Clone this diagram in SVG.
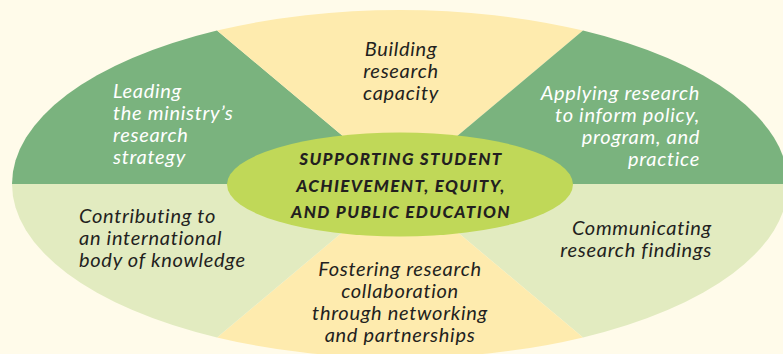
<svg xmlns="http://www.w3.org/2000/svg" width="783" height="354" viewBox="0 0 783 354">
  <style>
    .dark { fill: #7AB37E; }
    .yel { fill: #FEEBAE; }
    .light { fill: #E2EBC0; }
    .lbl { font-family: Lato, "Liberation Sans", sans-serif; font-style: italic; font-size: 20px; letter-spacing: 0.7px; }
    .w { fill: #FFFFFF; }
    .k { fill: #231F20; }
    .ctr { font-family: Lato, "Liberation Sans", sans-serif; font-style: italic; font-weight: 900; font-size: 17px; letter-spacing: 1.4px; fill: #231F20; text-anchor: middle; }
  </style>
  <rect width="783" height="354" fill="#FFFBEA"/>
  <g id="leading">
    <path class="dark" d="M400,184 L12,184 A388,174 0 0 1 217,30.6 Z"/>
    <text class="lbl w" x="113"><tspan x="113" y="98">Leading</tspan><tspan x="113" y="120">the ministry’s</tspan><tspan x="113" y="142">research</tspan><tspan x="113" y="164">strategy</tspan></text>
  </g>
  <g id="building">
    <path class="yel" d="M400,184 L217,30.6 A388,174 0 0 1 583,30.6 Z"/>
    <text class="lbl k" text-anchor="middle"><tspan x="401" y="56">Building</tspan><tspan x="401" y="78">research</tspan><tspan x="401" y="100">capacity</tspan></text>
  </g>
  <g id="applying">
    <path class="dark" d="M400,184 L583,30.6 A388,174 0 0 1 788,184 Z"/>
    <text class="lbl w" text-anchor="end"><tspan x="700" y="100">Applying research</tspan><tspan x="700" y="122">to inform policy,</tspan><tspan x="700" y="144">program, and</tspan><tspan x="700" y="166">practice</tspan></text>
  </g>
  <g id="communicating">
    <path class="light" d="M400,184 L788,184 A388,174 0 0 1 583,337.4 Z"/>
    <text class="lbl k" text-anchor="end"><tspan x="712" y="235">Communicating</tspan><tspan x="712" y="257">research findings</tspan></text>
  </g>
  <g id="fostering">
    <path class="yel" d="M400,184 L583,337.4 A388,174 0 0 1 217,337.4 Z"/>
    <text class="lbl k" text-anchor="middle"><tspan x="400" y="276">Fostering research</tspan><tspan x="400" y="298">collaboration</tspan><tspan x="400" y="320">through networking</tspan><tspan x="400" y="342">and partnerships</tspan></text>
  </g>
  <g id="contributing">
    <path class="light" d="M400,184 L217,337.4 A388,174 0 0 1 12,184 Z"/>
    <text class="lbl k"><tspan x="79" y="223">Contributing to</tspan><tspan x="79" y="245">an international</tspan><tspan x="79" y="267">body of knowledge</tspan></text>
  </g>
  <g id="center">
    <ellipse cx="400" cy="184.5" rx="173" ry="52" fill="#C0D858"/>
    <text class="ctr"><tspan x="401" y="165">SUPPORTING STUDENT</tspan><tspan x="401" y="192">ACHIEVEMENT, EQUITY,</tspan><tspan x="401" y="218">AND PUBLIC EDUCATION</tspan></text>
  </g>
</svg>
